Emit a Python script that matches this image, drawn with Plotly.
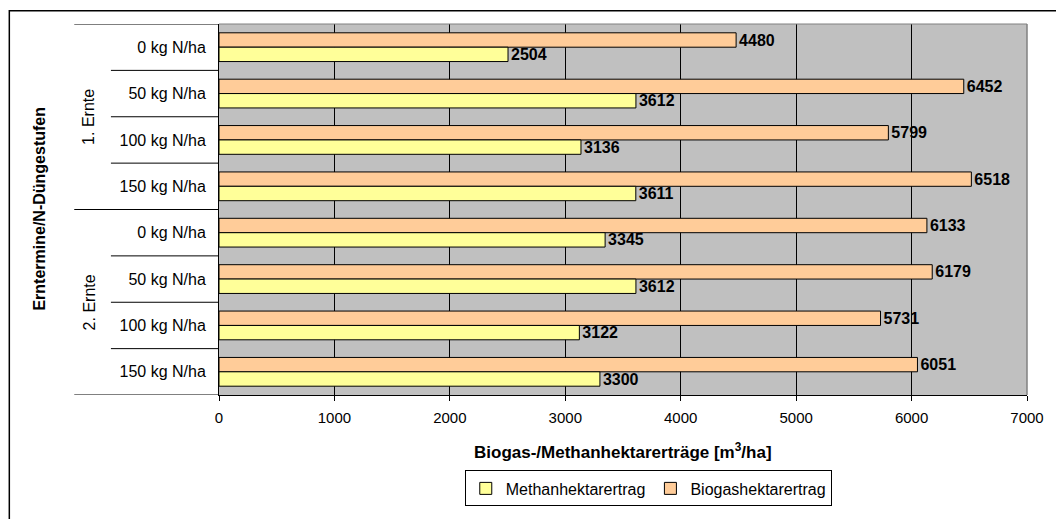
import plotly.graph_objects as go

groups = ["1. Ernte", "2. Ernte"]
levels = ["0 kg N/ha", "50 kg N/ha", "100 kg N/ha", "150 kg N/ha"]
categories = [lv for g in groups for lv in levels]
biogas = [4480, 6452, 5799, 6518, 6133, 6179, 5731, 6051]
methan = [2504, 3612, 3136, 3611, 3345, 3612, 3122, 3300]
x_ticks = [0, 1000, 2000, 3000, 4000, 5000, 6000, 7000]

FONT = "Liberation Sans, Arial, sans-serif"
ypos = list(range(len(categories)))

fig = go.Figure()
fig.add_trace(go.Bar(
    y=ypos, x=biogas, orientation="h", name="Biogashektarertrag",
    marker=dict(color="#FFCC99", line=dict(color="black", width=1)),
    text=biogas, textposition="outside", constraintext="none", cliponaxis=False,
    textfont=dict(family=FONT, size=16, color="black", weight="bold"),
))
fig.add_trace(go.Bar(
    y=ypos, x=methan, orientation="h", name="Methanhektarertrag",
    marker=dict(color="#FFFF99", line=dict(color="black", width=1)),
    text=methan, textposition="outside", constraintext="none", cliponaxis=False,
    textfont=dict(family=FONT, size=16, color="black", weight="bold"),
))

W, H = 1056, 519
PL, PR, PT, PB = 219, 1034, 24, 401  # plot area in page pixels
ml, mr, mt, mb = PL, W - PR, PT, H - PB
pw, ph = PR - PL, PB - PT

def px(xp):
    return (xp - PL) / pw

def py(yp):
    return (PB - yp) / ph

shapes = []
n = len(categories)
per = len(levels)
for i in range(n + 1):
    b = i - 0.5
    long = (i % per == 0)
    shapes.append(dict(type="line", xref="paper", yref="y",
                       x0=px(73 if long else 110), x1=0, y0=b, y1=b,
                       line=dict(color="black", width=1)))
# plot area border (gray) right and top
shapes.append(dict(type="line", xref="paper", yref="paper", x0=1, x1=1, y0=0, y1=1,
                   line=dict(color="#808080", width=1.5), layer="above"))
shapes.append(dict(type="line", xref="paper", yref="paper", x0=0, x1=1, y0=1, y1=1,
                   line=dict(color="#808080", width=1), layer="above"))
# outer chart border
shapes.append(dict(type="rect", xref="paper", yref="paper",
                   x0=px(7.5), x1=px(1080), y0=py(540), y1=py(10.5),
                   line=dict(color="black", width=1.5)))

annotations = []
for gi, g in enumerate(groups):
    annotations.append(dict(text=g, xref="paper", yref="y", x=px(88),
                            y=gi * per + (per - 1) / 2, textangle=-90, showarrow=False,
                            font=dict(family=FONT, size=16, color="black"),
                            xanchor="center", yanchor="middle"))
annotations.append(dict(text="<b>Erntermine/N-Düngestufen</b>", xref="paper", yref="paper",
                        x=px(37), y=py(212), textangle=-90, showarrow=False,
                        font=dict(family=FONT, size=16, color="black"),
                        xanchor="center", yanchor="middle"))
annotations.append(dict(text="<b>Biogas-/Methanhektarerträge [m<sup>3</sup>/ha]</b>",
                        xref="paper", yref="paper", x=px(627), y=py(458), showarrow=False,
                        font=dict(family=FONT, size=17, color="black"),
                        xanchor="center", yanchor="middle"))

fig.update_layout(
    width=W, height=H, autosize=False,
    margin=dict(l=ml, r=mr, t=mt, b=mb),
    paper_bgcolor="white", plot_bgcolor="#C0C0C0",
    barmode="group", bargap=0.38, bargroupgap=0,
    font=dict(family=FONT, size=15, color="black"),
    shapes=shapes, annotations=annotations,
    legend=dict(orientation="h", x=px(652), y=py(496), xanchor="center", yanchor="middle",
                traceorder="reversed", bordercolor="black", borderwidth=1,
                bgcolor="white", font=dict(family=FONT, size=16, color="black"),
                itemwidth=30, tracegroupgap=0),
    xaxis=dict(range=[0, 7000], tickvals=x_ticks, showgrid=True, gridcolor="black",
               gridwidth=1, zeroline=False, showline=True, linecolor="black",
               ticks="outside", ticklen=5, tickcolor="black", ticklabelstandoff=4,
               tickfont=dict(family=FONT, size=15, color="black")),
    yaxis=dict(range=[n - 0.5, -0.5], tickvals=ypos, ticktext=categories,
               showgrid=False, zeroline=False, showline=True, linecolor="black",
               ticks="", ticklabelstandoff=9,
               tickfont=dict(family=FONT, size=16, color="black")),
)

fig.write_html(
    "out.html",
    config={"displayModeBar": False},
    post_script=(
        "document.documentElement.style.margin='0';"
        "document.body.style.margin='0';"
        "document.documentElement.style.overflow='hidden';"
        "document.body.style.overflow='hidden';"
    ),
)
